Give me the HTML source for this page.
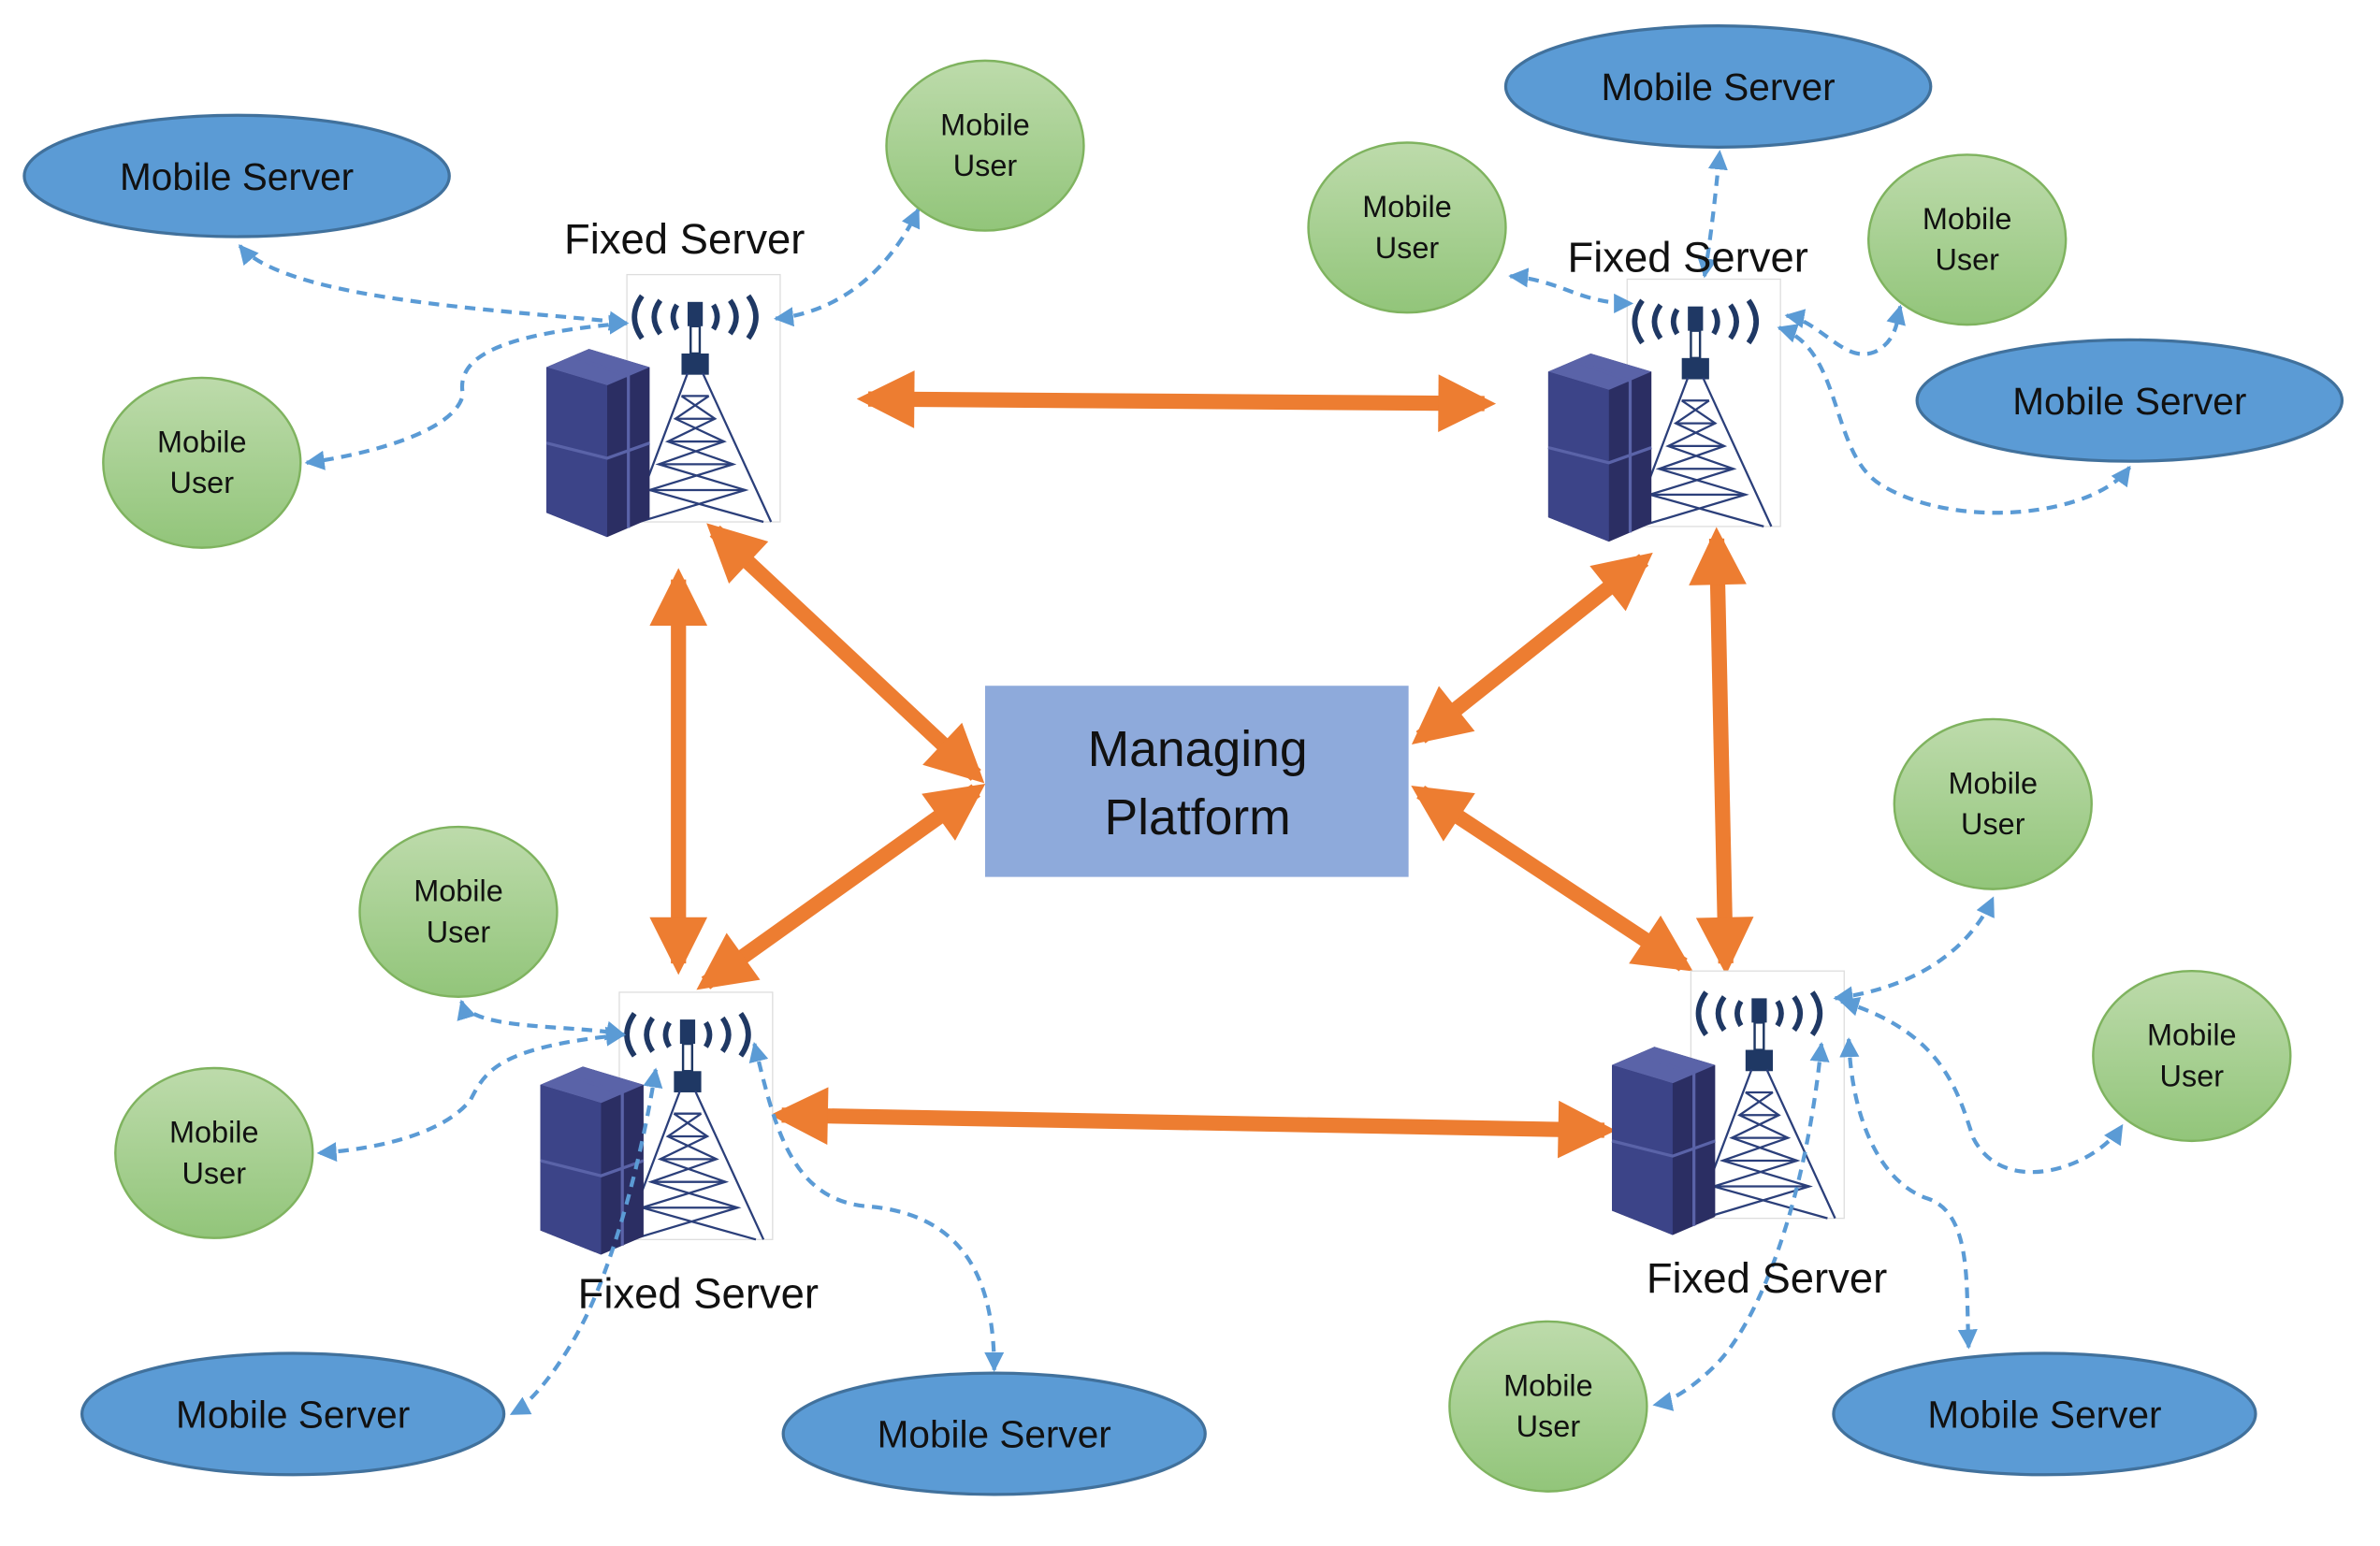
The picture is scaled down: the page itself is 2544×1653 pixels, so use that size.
<!DOCTYPE html>
<html><head><meta charset="utf-8"><style>
html,body{margin:0;padding:0;background:#fff;}
svg{display:block;}
text{font-family:"Liberation Sans","DejaVu Sans",sans-serif;}
</style></head><body>
<svg width="2544" height="1653" viewBox="0 0 1568 1019" preserveAspectRatio="none" xmlns="http://www.w3.org/2000/svg">
<defs>
<linearGradient id="gg" x1="0" y1="0" x2="0" y2="1"><stop offset="0" stop-color="#bddbab"/><stop offset="1" stop-color="#92c57a"/></linearGradient>
<marker id="oh" viewBox="0 0 10 10" refX="8" refY="5" markerWidth="4" markerHeight="3.8" markerUnits="strokeWidth" orient="auto-start-reverse"><path d="M0,0 L10,5 L0,10 Z" fill="#ed7d31"/></marker>
<marker id="bh" viewBox="0 0 10 10" refX="9" refY="5" markerWidth="5" markerHeight="5" markerUnits="strokeWidth" orient="auto-start-reverse"><path d="M0,0 L10,5 L0,10 Z" fill="#5b9bd5"/></marker>
<g id="tw">
<rect x="0" y="0" width="101" height="163" fill="#fff" stroke="#ddd" stroke-width="0.8"/>
<g fill="none" stroke="#1f3864" stroke-width="3.5">
<path d="M10,14 Q0,28 10,42"/><path d="M22,17 Q14,28 22,39"/><path d="M33,20 Q28,28 33,36"/>
<path d="M80,14 Q90,28 80,42"/><path d="M68,17 Q76,28 68,39"/><path d="M57,20 Q62,28 57,36"/>
</g>
<rect x="40" y="18" width="10" height="16" fill="#1f3864"/>
<rect x="42" y="34" width="6" height="18" fill="none" stroke="#1f3864" stroke-width="1.5"/>
<rect x="36" y="52" width="18" height="14" fill="#1f3864"/>
<g fill="none" stroke="#2b3f7a" stroke-width="1.4">
<path d="M40,65 L3,163 M50,65 L95,163"/>
<path d="M36,80 L54,80 M32,95 L58,95 M27,110 L64,110 M21,125 L70,125 M15,142 L78,142"/>
<path d="M36,80 L58,95 L27,110 L70,125 L15,142 L90,163 M54,80 L32,95 L64,110 L21,125 L78,142 L8,163"/>
</g>
</g>
<g id="sv">
<path d="M0,12 L28,0 L68,12 L68,112 L40,124 L0,108 Z" fill="#2b2e63"/>
<path d="M0,12 L28,0 L68,12 L40,24 Z" fill="#5a63a8"/>
<path d="M0,12 L40,24 L40,124 L0,108 Z" fill="#3c4488"/>
<path d="M20,6 L54,18 L54,118 M0,62 L40,72 L68,62" fill="none" stroke="#5a63a8" stroke-width="2"/>
</g>
</defs>

<g stroke="#ed7d31" stroke-width="10" marker-start="url(#oh)" marker-end="url(#oh)" fill="none">
<line x1="572" y1="263" x2="978" y2="266"/>
<line x1="471" y1="350" x2="643" y2="511"/>
<line x1="447" y1="382" x2="447" y2="635"/>
<line x1="465" y1="648" x2="643" y2="521"/>
<line x1="936" y1="486" x2="1083" y2="369"/>
<line x1="1131" y1="355" x2="1137" y2="635"/>
<line x1="936" y1="522" x2="1109" y2="636"/>
<line x1="515" y1="735" x2="1057" y2="745"/>
</g>

<rect x="649" y="452" width="279" height="126" fill="#8eaadb"/>
<text x="789" y="505" font-size="33" text-anchor="middle" fill="#111">Managing</text>
<text x="789" y="550" font-size="33" text-anchor="middle" fill="#111">Platform</text>

<use href="#tw" x="413" y="181"/><use href="#sv" x="360" y="230"/>
<use href="#tw" x="1072" y="184"/><use href="#sv" x="1020" y="233"/>
<use href="#tw" x="408" y="654"/><use href="#sv" x="356" y="703"/>
<use href="#tw" x="1114" y="640"/><use href="#sv" x="1062" y="690"/>

<g stroke="#5b9bd5" stroke-width="2.6" stroke-dasharray="7,5" fill="none" marker-start="url(#bh)" marker-end="url(#bh)">
<path d="M158,162 C190,200 350,205 413,213"/>
<path d="M511,210 C560,205 590,170 605,138"/>
<path d="M413,213 C330,220 300,235 305,260 C300,285 240,300 202,305"/>
<path d="M1123,182 C1128,150 1130,130 1133,100"/>
<path d="M995,182 C1030,185 1040,200 1075,200"/>
<path d="M1177,208 C1200,212 1215,240 1235,232 C1250,225 1250,210 1252,202"/>
<path d="M1172,216 C1215,230 1205,300 1240,320 C1290,350 1380,340 1403,308"/>
<path d="M304,660 C310,680 380,675 411,682"/>
<path d="M411,682 C330,690 320,705 310,725 C290,750 240,758 210,760"/>
<path d="M432,705 C420,780 400,840 385,870 C370,900 350,925 337,932"/>
<path d="M497,688 C510,740 520,790 570,795 C640,800 655,850 655,903"/>
<path d="M1209,658 C1270,650 1300,620 1313,592"/>
<path d="M1213,660 C1280,680 1290,720 1300,750 C1320,790 1380,770 1398,742"/>
<path d="M1218,685 C1220,740 1240,780 1270,790 C1300,800 1295,850 1297,888"/>
<path d="M1200,688 C1190,790 1160,870 1130,900 C1110,920 1095,925 1090,926"/>
</g>

<g fill="#5b9bd5" stroke="#41719c" stroke-width="2">
<ellipse cx="156" cy="116" rx="140" ry="40"/>
<ellipse cx="1132" cy="57" rx="140" ry="40"/>
<ellipse cx="1403" cy="264" rx="140" ry="40"/>
<ellipse cx="193" cy="932" rx="139" ry="40"/>
<ellipse cx="655" cy="945" rx="139" ry="40"/>
<ellipse cx="1347" cy="932" rx="139" ry="40"/>
</g>
<g font-size="25" text-anchor="middle" fill="#111">
<text x="156" y="125">Mobile Server</text>
<text x="1132" y="66">Mobile Server</text>
<text x="1403" y="273">Mobile Server</text>
<text x="193" y="941">Mobile Server</text>
<text x="655" y="954">Mobile Server</text>
<text x="1347" y="941">Mobile Server</text>
</g>

<g fill="url(#gg)" stroke="#7fb35f" stroke-width="1.5">
<ellipse cx="649" cy="96" rx="65" ry="56"/>
<ellipse cx="133" cy="305" rx="65" ry="56"/>
<ellipse cx="927" cy="150" rx="65" ry="56"/>
<ellipse cx="1296" cy="158" rx="65" ry="56"/>
<ellipse cx="302" cy="601" rx="65" ry="56"/>
<ellipse cx="141" cy="760" rx="65" ry="56"/>
<ellipse cx="1313" cy="530" rx="65" ry="56"/>
<ellipse cx="1444" cy="696" rx="65" ry="56"/>
<ellipse cx="1020" cy="927" rx="65" ry="56"/>
</g>
<g font-size="20" text-anchor="middle" fill="#111">
<text x="649" y="89">Mobile</text><text x="649" y="116">User</text>
<text x="133" y="298">Mobile</text><text x="133" y="325">User</text>
<text x="927" y="143">Mobile</text><text x="927" y="170">User</text>
<text x="1296" y="151">Mobile</text><text x="1296" y="178">User</text>
<text x="302" y="594">Mobile</text><text x="302" y="621">User</text>
<text x="141" y="753">Mobile</text><text x="141" y="780">User</text>
<text x="1313" y="523">Mobile</text><text x="1313" y="550">User</text>
<text x="1444" y="689">Mobile</text><text x="1444" y="716">User</text>
<text x="1020" y="920">Mobile</text><text x="1020" y="947">User</text>
</g>

<g font-size="28" text-anchor="middle" fill="#111">
<text x="451" y="167">Fixed Server</text>
<text x="1112" y="179">Fixed Server</text>
<text x="460" y="862">Fixed Server</text>
<text x="1164" y="852">Fixed Server</text>
</g>
</svg>
</body></html>
